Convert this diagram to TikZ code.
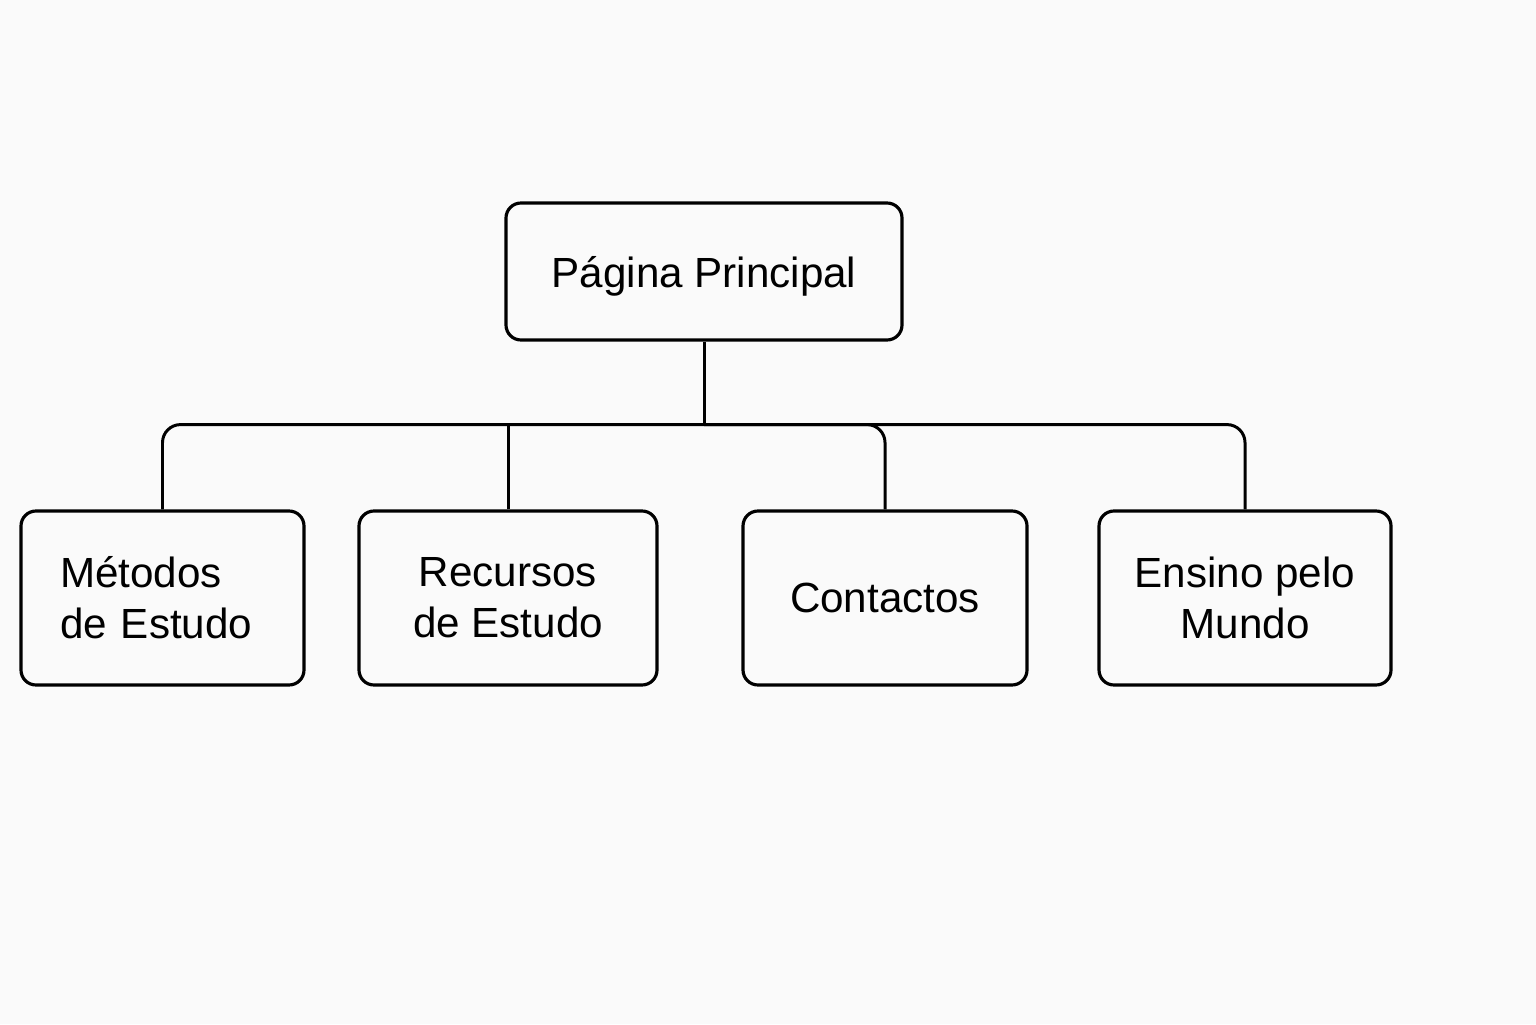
\documentclass[tikz,border=0pt]{standalone}
\usepackage{fontspec}
\setmainfont{Liberation Sans}
\begin{document}
\begin{tikzpicture}[every node/.style={font=\fontsize{12}{14.5}\selectfont},
    pagebox/.style={draw,line width=0.9pt,rounded corners=0.15cm,align=center,inner sep=0pt},
    link/.style={line width=0.85pt}]
    % Canvas
    \fill[white!98!black] (0,0) rectangle (15.36,10.24);
    \useasboundingbox (0,0) rectangle (15.36,10.24);

    % Home page
    \node[pagebox,minimum width=3.96cm,minimum height=1.37cm,text depth=0pt] (home) at (7.04,7.525) {Página Principal};

    % Sections
    \node[pagebox,minimum width=2.83cm,minimum height=1.74cm,text width=2.05cm,align=left] (metodos) at (1.625,4.26) {Métodos\\de Estudo};
    \node[pagebox,minimum width=2.98cm,minimum height=1.74cm] (recursos) at (5.08,4.26) {Recursos\\de Estudo};
    \node[pagebox,minimum width=2.84cm,minimum height=1.74cm] (contactos) at (8.85,4.26) {Contactos};
    \node[pagebox,minimum width=2.92cm,minimum height=1.74cm] (ensino) at (12.45,4.26) {Ensino pelo\\Mundo};

    % Connectors
    \draw[link] (home.south) -- ++(0,-0.83) coordinate (hub);
    \draw[link,rounded corners=0.18cm] (metodos.north) |- (hub) -| (ensino.north);
    \draw[link] (recursos.north) -- (recursos.north |- hub);
    \draw[link,rounded corners=0.18cm] (hub) -| (contactos.north);
\end{tikzpicture}
\end{document}
